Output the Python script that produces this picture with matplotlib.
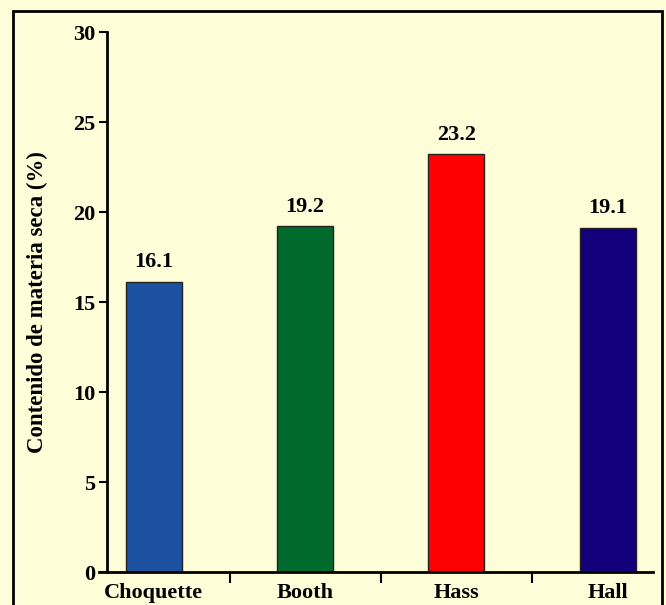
import matplotlib.pyplot as plt
from matplotlib.patches import Rectangle

variedades = ['Choquette', 'Booth', 'Hass', 'Hall']
materia_seca = [16.1, 19.2, 23.2, 19.1]
colores = ['#1C51A0', '#006A2C', '#FF0000', '#14007A']
yticks = [0, 5, 10, 15, 20, 25, 30]

plt.rcParams['font.family'] = ['Liberation Serif', 'DejaVu Serif']
plt.rcParams['font.weight'] = 'bold'

fondo = '#FFFED8'
fig = plt.figure(figsize=(6.66, 6.05), dpi=100, facecolor=fondo)
ax = fig.add_axes([0.1607, 0.0545, 0.82, 0.8925], facecolor=fondo)

# marco negro alrededor de la figura
fig.patches.append(Rectangle((13 / 666, -0.05), 649 / 666, 1.05 - 11 / 605,
                             transform=fig.transFigure, fill=False,
                             edgecolor='black', linewidth=2))

x = range(len(variedades))
ax.bar(x, materia_seca, width=0.37, color=colores, edgecolor='#222222', linewidth=1)

for xi, v in zip(x, materia_seca):
    ax.text(xi, v + 0.55, f'{v:.1f}', ha='center', va='bottom',
            fontsize=16, fontweight='bold')

ax.set_xlim(-0.31, 3.3)
ax.set_ylim(0, 30)
ax.set_yticks(yticks)
ax.tick_params(axis='y', labelsize=16, length=6, width=1.5, pad=2.5)

# etiquetas de categoria sin marca, separadores entre barras
ax.set_xticks(list(x))
ax.set_xticklabels(variedades, fontsize=16, fontweight='bold')
ax.tick_params(axis='x', length=0, pad=8)
ax.set_xticks([0.5, 1.5, 2.5], minor=True)
ax.tick_params(axis='x', which='minor', length=8, width=1.5, direction='out')

for s in ['top', 'right']:
    ax.spines[s].set_visible(False)
ax.spines['left'].set_linewidth(2)
ax.spines['bottom'].set_linewidth(2)
ax.spines['bottom'].set_bounds(-0.36, 3.3)

ax.set_ylabel('Contenido de materia seca (%)', fontsize=16.5, fontweight='bold', labelpad=18)

fig.savefig('out.png', dpi=100, facecolor=fondo)
